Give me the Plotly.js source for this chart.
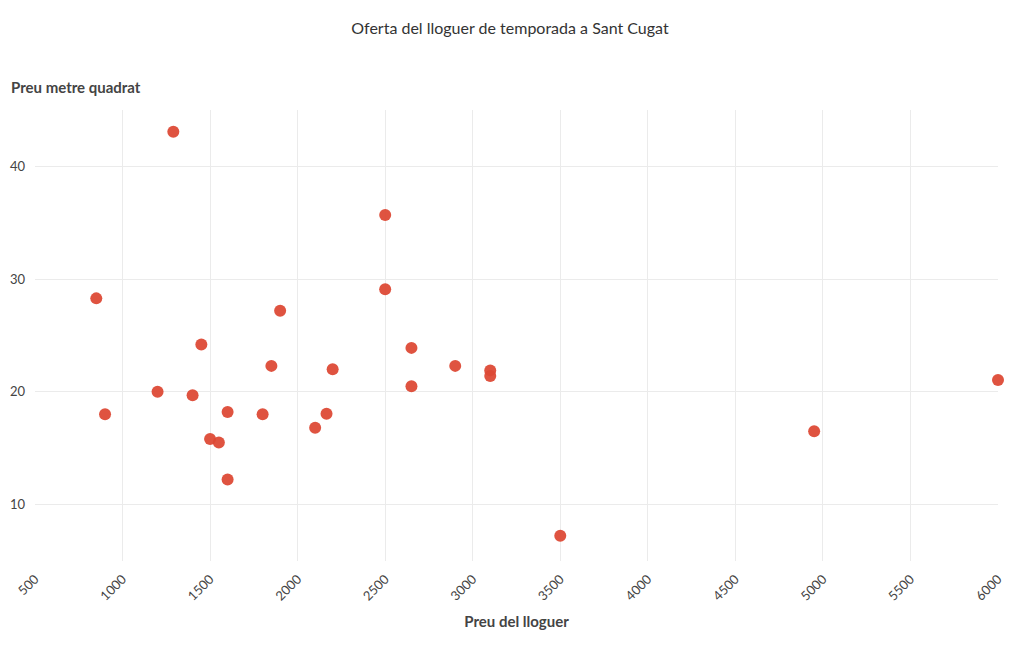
<!DOCTYPE html>
<html>
<head>
<meta charset="utf-8">
<script src="https://cdn.plot.ly/plotly-3.0.1.min.js"></script>
<style>html,body{margin:0;padding:0;background:#fff;}#chart{width:1020px;height:650px;}</style>
</head>
<body>
<div id="chart"></div>
<script>
// Preu del lloguer (EUR/mes)
var preuLloguer = [1290, 2500, 2500, 850, 1900, 1450, 2650, 1850, 2900, 3100, 3100, 2200, 2650, 1200, 1400, 900, 1600, 1800, 2165, 2100, 1500, 1550, 1600, 4950, 6000, 3500];
// Preu metre quadrat (EUR/m2)
var preuM2 = [43.1, 35.7, 29.1, 28.3, 27.2, 24.2, 23.9, 22.3, 22.3, 21.9, 21.4, 22.0, 20.5, 20.0, 19.7, 18.0, 18.2, 18.0, 18.05, 16.8, 15.8, 15.5, 12.2, 16.5, 21.05, 7.2];
var xTicks = [500, 1000, 1500, 2000, 2500, 3000, 3500, 4000, 4500, 5000, 5500, 6000];
var yTicks = [10, 20, 30, 40];

var FONT = 'Lato, "Source Sans Pro", "Open Sans", sans-serif';

var trace = {
  type: 'scatter',
  mode: 'markers',
  x: preuLloguer,
  y: preuM2,
  cliponaxis: false,
  marker: {size: 12, color: 'rgb(221,72,52)', opacity: 0.94},
  hoverinfo: 'x+y'
};

var layout = {
  width: 1020,
  height: 650,
  paper_bgcolor: '#fff',
  plot_bgcolor: '#fff',
  showlegend: false,
  font: {family: FONT, color: '#444', size: 13},
  margin: {l: 35, r: 22, t: 110, b: 89},
  title: {text: 'Oferta del lloguer de temporada a Sant Cugat', x: 0.5, xanchor: 'center', y: 0.957, yanchor: 'middle', font: {family: FONT, size: 16, color: '#333'}},
  xaxis: {
    range: [500, 6000],
    tickvals: xTicks,
    ticktext: xTicks.map(String),
    tickangle: -45,
    showgrid: true,
    gridcolor: '#ebebeb',
    zeroline: false,
    showline: false,
    ticks: '',
    ticklabelstandoff: 7,
    tickfont: {size: 13, color: '#444'},
    title: {text: '<b>Preu del lloguer</b>', font: {size: 15, color: '#444'}, standoff: 13}
  },
  yaxis: {
    range: [4.96, 45.04],
    tickvals: yTicks,
    ticktext: yTicks.map(String),
    showgrid: true,
    gridcolor: '#ebebeb',
    zeroline: false,
    showline: false,
    ticks: '',
    ticklabelstandoff: 9,
    tickfont: {size: 13, color: '#444'}
  },
  annotations: [{
    text: '<b>Preu metre quadrat</b>',
    xref: 'paper', yref: 'paper',
    x: -0.027, y: 1.0, xanchor: 'left', yanchor: 'bottom',
    yshift: 12,
    showarrow: false,
    font: {family: FONT, size: 15, color: '#444'}
  }]
};

Plotly.newPlot('chart', [trace], layout, {displayModeBar: false, responsive: false});
</script>
</body>
</html>
